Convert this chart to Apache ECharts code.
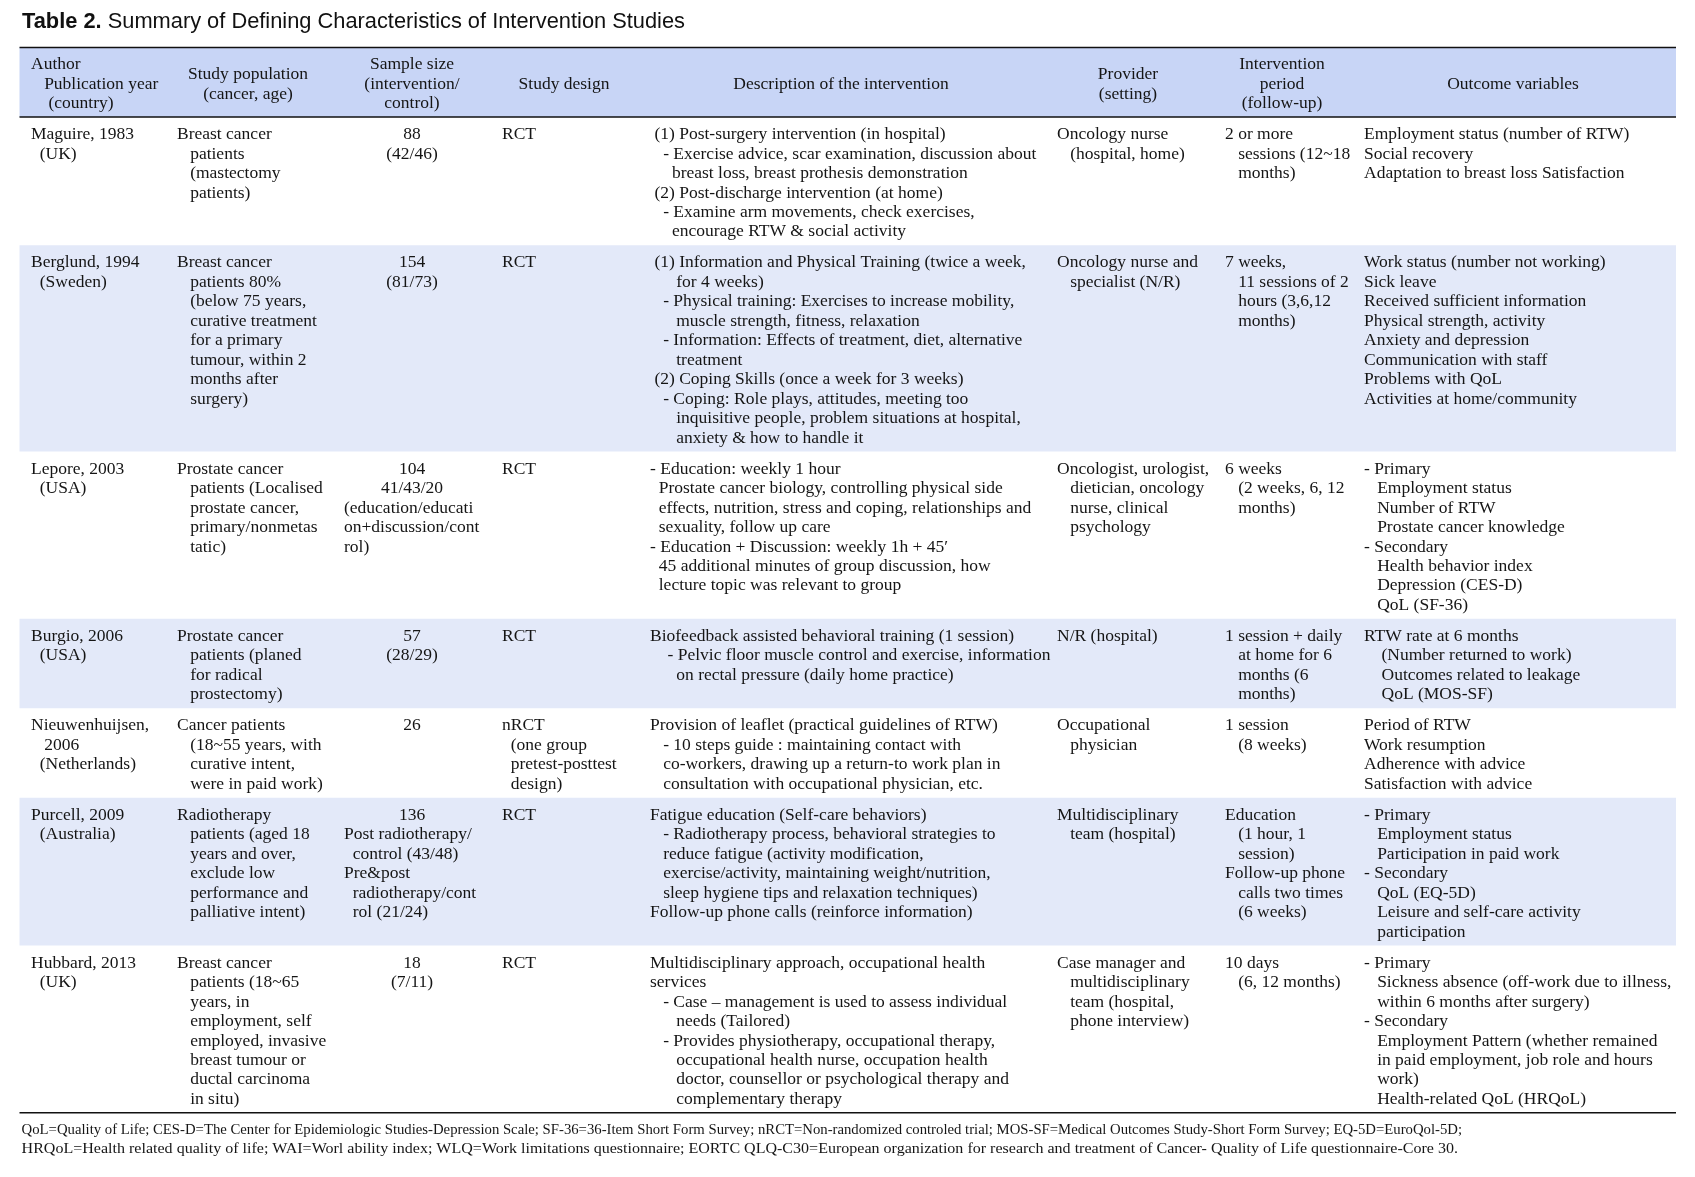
<!DOCTYPE html>
<html><head><meta charset="utf-8">
<script src="https://cdn.jsdelivr.net/npm/echarts@6/dist/echarts.min.js"></script>
<style>html,body{margin:0;padding:0;background:#fff}#c{width:1695px;height:1177px}</style>
</head><body><div id="c"></div>
<script>
// ---------- DATA ----------
const titleBold = "Table 2.";
const titleRest = " Summary of Defining Characteristics of Intervention Studies";

const headers = [
  ["Author", "   Publication year", "    (country)"],
  ["^Study population", "^(cancer, age)"],
  ["^Sample size", "^(intervention/", "^control)"],
  ["^Study design"],
  ["^Description of the intervention"],
  ["^Provider", "^(setting)"],
  ["^Intervention", "^period", "^(follow-up)"],
  ["^Outcome variables"]
];

const authors = [
  ["Maguire, 1983", "  (UK)"],
  ["Berglund, 1994", "  (Sweden)"],
  ["Lepore, 2003", "  (USA)"],
  ["Burgio, 2006", "  (USA)"],
  ["Nieuwenhuijsen,", "   2006", "  (Netherlands)"],
  ["Purcell, 2009", "  (Australia)"],
  ["Hubbard, 2013", "  (UK)"]
];

const population = [
  ["Breast cancer", "   patients", "   (mastectomy", "   patients)"],
  ["Breast cancer", "   patients 80%", "   (below 75 years,", "   curative treatment", "   for a primary", "   tumour, within 2", "   months after", "   surgery)"],
  ["Prostate cancer", "   patients (Localised", "   prostate cancer,", "   primary/nonmetas", "   tatic)"],
  ["Prostate cancer", "   patients (planed", "   for radical", "   prostectomy)"],
  ["Cancer patients", "   (18~55 years, with", "   curative intent,", "   were in paid work)"],
  ["Radiotherapy", "   patients (aged 18", "   years and over,", "   exclude low", "   performance and", "   palliative intent)"],
  ["Breast cancer", "   patients (18~65", "   years, in", "   employment, self", "   employed, invasive", "   breast tumour or", "   ductal carcinoma", "   in situ)"]
];

const sampleSize = [
  ["^88", "^(42/46)"],
  ["^154", "^(81/73)"],
  ["^104", "^41/43/20", "(education/educati", "on+discussion/cont", "rol)"],
  ["^57", "^(28/29)"],
  ["^26"],
  ["^136", "Post radiotherapy/", "  control (43/48)", "Pre&post", "  radiotherapy/cont", "  rol (21/24)"],
  ["^18", "^(7/11)"]
];

const design = [
  ["RCT"], ["RCT"], ["RCT"], ["RCT"],
  ["nRCT", "  (one group", "  pretest-posttest", "  design)"],
  ["RCT"], ["RCT"]
];

const description = [
  [" (1) Post-surgery intervention (in hospital)", "   - Exercise advice, scar examination, discussion about", "     breast loss, breast prothesis demonstration", " (2) Post-discharge intervention (at home)", "   - Examine arm movements, check exercises,", "     encourage RTW & social activity"],
  [" (1) Information and Physical Training (twice a week,", "      for 4 weeks)", "   - Physical training: Exercises to increase mobility,", "      muscle strength, fitness, relaxation", "   - Information: Effects of treatment, diet, alternative", "      treatment", " (2) Coping Skills (once a week for 3 weeks)", "   - Coping: Role plays, attitudes, meeting too", "      inquisitive people, problem situations at hospital,", "      anxiety & how to handle it"],
  ["- Education: weekly 1 hour", "  Prostate cancer biology, controlling physical side", "  effects, nutrition, stress and coping, relationships and", "  sexuality, follow up care", "- Education + Discussion: weekly 1h + 45\u2032", "  45 additional minutes of group discussion, how", "  lecture topic was relevant to group"],
  ["Biofeedback assisted behavioral training (1 session)", "    - Pelvic floor muscle control and exercise, information", "      on rectal pressure (daily home practice)"],
  ["Provision of leaflet (practical guidelines of RTW)", "   - 10 steps guide : maintaining contact with", "   co-workers, drawing up a return-to work plan in", "   consultation with occupational physician, etc."],
  ["Fatigue education (Self-care behaviors)", "   - Radiotherapy process, behavioral strategies to", "   reduce fatigue (activity modification,", "   exercise/activity, maintaining weight/nutrition,", "   sleep hygiene tips and relaxation techniques)", "Follow-up phone calls (reinforce information)"],
  ["Multidisciplinary approach, occupational health", "services", "   - Case \u2013 management is used to assess individual", "      needs (Tailored)", "   - Provides physiotherapy, occupational therapy,", "      occupational health nurse, occupation health", "      doctor, counsellor or psychological therapy and", "      complementary therapy"]
];

const provider = [
  ["Oncology nurse", "   (hospital, home)"],
  ["Oncology nurse and", "   specialist (N/R)"],
  ["Oncologist, urologist,", "   dietician, oncology", "   nurse, clinical", "   psychology"],
  ["N/R (hospital)"],
  ["Occupational", "   physician"],
  ["Multidisciplinary", "   team (hospital)"],
  ["Case manager and", "   multidisciplinary", "   team (hospital,", "   phone interview)"]
];

const period = [
  ["2 or more", "   sessions (12~18", "   months)"],
  ["7 weeks,", "   11 sessions of 2", "   hours (3,6,12", "   months)"],
  ["6 weeks", "   (2 weeks, 6, 12", "   months)"],
  ["1 session + daily", "   at home for 6", "   months (6", "   months)"],
  ["1 session", "   (8 weeks)"],
  ["Education", "   (1 hour, 1", "   session)", "Follow-up phone", "   calls two times", "   (6 weeks)"],
  ["10 days", "   (6, 12 months)"]
];

const outcome = [
  ["Employment status (number of RTW)", "Social recovery", "Adaptation to breast loss Satisfaction"],
  ["Work status (number not working)", "Sick leave", "Received sufficient information", "Physical strength, activity", "Anxiety and depression", "Communication with staff", "Problems with QoL", "Activities at home/community"],
  ["- Primary", "   Employment status", "   Number of RTW", "   Prostate cancer knowledge", "- Secondary", "   Health behavior index", "   Depression (CES-D)", "   QoL (SF-36)"],
  ["RTW rate at 6 months", "    (Number returned to work)", "    Outcomes related to leakage", "    QoL (MOS-SF)"],
  ["Period of RTW", "Work resumption", "Adherence with advice", "Satisfaction with advice"],
  ["- Primary", "   Employment status", "   Participation in paid work", "- Secondary", "   QoL (EQ-5D)", "   Leisure and self-care activity", "   participation"],
  ["- Primary", "   Sickness absence (off-work due to illness,", "   within 6 months after surgery)", "- Secondary", "   Employment Pattern (whether remained", "   in paid employment, job role and hours", "   work)", "   Health-related QoL (HRQoL)"]
];

const footnotes = [
  "QoL=Quality of Life; CES-D=The Center for Epidemiologic Studies-Depression Scale; SF-36=36-Item Short Form Survey; nRCT=Non-randomized controled trial; MOS-SF=Medical Outcomes Study-Short Form Survey; EQ-5D=EuroQol-5D;",
  "HRQoL=Health related quality of life; WAI=Worl ability index; WLQ=Work limitations questionnaire; EORTC QLQ-C30=European organization for research and treatment of Cancer- Quality of Life questionnaire-Core 30."
];

// ---------- LAYOUT / STYLE ----------
const W = 1695, H = 1177;
const SERIF = '"Liberation Serif", "Times New Roman", serif';
const SANS = '"Liberation Sans", Arial, sans-serif';
const FS = 17.5, LH = 19.46, PAD = 11.6, TEXT_SHIFT = 2;
const TEXT = '#151515';
const HEAD_BG = '#c8d5f6';
const STRIPE = '#e3e9f9';
const tableLeft = 19.5, tableRight = 1676;
const colX = [31, 177, 344, 502, 650, 1057, 1225, 1364];
const colC = [60, 248, 412, 564, 841, 1128, 1282, 1513];
const headerTop = 47.5, headerBottom = 117;
const columns = [authors, population, sampleSize, design, description, provider, period, outcome];

let yCur = headerBottom;
const rowBoxes = authors.map((_, i) => {
  const n = Math.max(...columns.map(c => c[i].length));
  const h = n * LH + PAD;
  const r = [i, yCur, yCur + h];
  yCur += h;
  return r;
});
const tableBottom = yCur;

const measureCtx = document.createElement('canvas').getContext('2d');
function textW(font, s) { measureCtx.font = font; return measureCtx.measureText(s).width; }

function cellTexts(lines, ci, firstY, api) {
  return lines.map((ln, k) => {
    const centered = ln.startsWith('^');
    const t = centered ? ln.slice(1) : ln;
    const p = api.coord([centered ? colC[ci] : colX[ci], firstY + k * LH]);
    return {
      type: 'text',
      style: {
        text: t, x: p[0], y: p[1], fill: TEXT,
        font: FS + 'px ' + SERIF,
        align: centered ? 'center' : 'left', verticalAlign: 'middle',
        textAlign: centered ? 'center' : 'left', textVerticalAlign: 'middle'
      }
    };
  });
}

function hline(api, y, w) {
  const a = api.coord([tableLeft, y]), b = api.coord([tableRight, y]);
  return { type: 'line', shape: { x1: a[0], y1: a[1], x2: b[0], y2: b[1] }, style: { stroke: '#111', lineWidth: w } };
}

function renderItem(params, api) {
  const idx = api.value(0), top = api.value(1), bottom = api.value(2);
  const p0 = api.coord([tableLeft, top]), p1 = api.coord([tableRight, bottom]);
  const children = [];
  if (idx < 0) {
    children.push({ type: 'rect', shape: { x: p0[0], y: p0[1], width: p1[0] - p0[0], height: p1[1] - p0[1] }, style: { fill: HEAD_BG } });
    const mid = (top + bottom) / 2 + TEXT_SHIFT;
    headers.forEach((lines, ci) => {
      const firstY = mid - (lines.length - 1) * LH / 2;
      children.push(...cellTexts(lines, ci, firstY, api));
    });
    children.push(hline(api, top, 1.6), hline(api, bottom, 1.6));
  } else {
    if (idx % 2 === 1) {
      children.push({ type: 'rect', shape: { x: p0[0], y: p0[1], width: p1[0] - p0[0], height: p1[1] - p0[1] }, style: { fill: STRIPE } });
    }
    const firstY = top + PAD / 2 + LH / 2 + TEXT_SHIFT;
    columns.forEach((col, ci) => children.push(...cellTexts(col[idx], ci, firstY, api)));
    if (idx === authors.length - 1) children.push(hline(api, bottom, 1.6));
  }
  return { type: 'group', children };
}

// title & footnote fitting
const titleFontB = 'bold 22px ' + SANS, titleFontN = '22px ' + SANS;
const titleW = textW(titleFontB, titleBold) + textW(titleFontN, titleRest);
const titleScale = 663 / titleW;
const FN_FONT = '15px ' + SERIF;
const fnLeft = 21.6;
const fnRight = [1462, 1458];
const fnY = [tableBottom + 17, tableBottom + 36];

const chart = echarts.init(document.getElementById('c'), null, { renderer: 'canvas' });
chart.setOption({
  animation: false,
  backgroundColor: '#fff',
  grid: { left: 0, right: 0, top: 0, bottom: 0 },
  xAxis: { type: 'value', min: 0, max: W, show: false },
  yAxis: { type: 'value', min: 0, max: H, inverse: true, show: false },
  series: [{
    type: 'custom',
    clip: false,
    renderItem,
    data: [[-1, headerTop, headerBottom]].concat(rowBoxes)
  }],
  graphic: [
    {
      type: 'text', x: 22, y: 22, scaleX: titleScale,
      style: {
        text: '{b|' + titleBold + '}{n|' + titleRest + '}',
        rich: {
          b: { font: titleFontB, fill: '#111' },
          n: { font: titleFontN, fill: '#111' }
        },
        verticalAlign: 'middle', align: 'left'
      }
    }
  ].concat(footnotes.map((s, i) => ({
    type: 'text', x: fnLeft, y: fnY[i], scaleX: (fnRight[i] - fnLeft) / textW(FN_FONT, s),
    style: { text: s, font: FN_FONT, fill: TEXT, verticalAlign: 'middle', align: 'left' }
  })))
});
</script>
</body></html>
